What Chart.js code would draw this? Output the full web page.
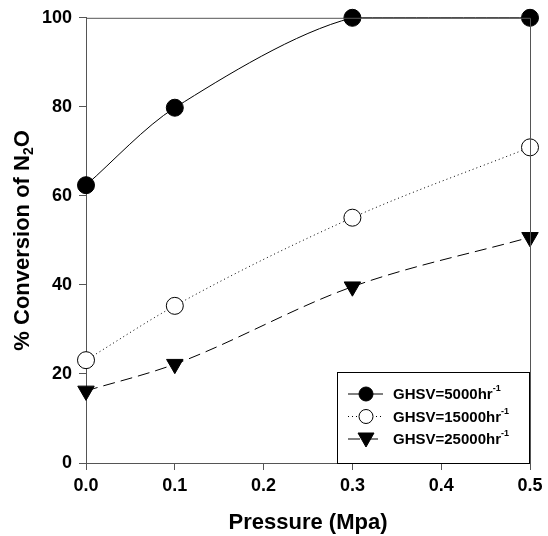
<!DOCTYPE html>
<html>
<head>
<meta charset="utf-8">
<script src="https://cdn.jsdelivr.net/npm/chart.js@4"></script>
<style>
  html, body { margin: 0; padding: 0; background: #fff; }
  #wrap { width: 548px; height: 536px; position: relative; }
</style>
</head>
<body>
<div id="wrap"><canvas id="chart"></canvas></div>
<script>
// data
const pressure = [0.0, 0.1, 0.3, 0.5];
const ghsv5000 = [62.4, 79.8, 100, 100];
const ghsv15000 = [23.1, 35.3, 55.1, 70.9];
const ghsv25000 = [16.2, 22.2, 39.6, 50.7];
const seriesNames = ["GHSV=5000hr", "GHSV=15000hr", "GHSV=25000hr"];
const xTicks = [0.0, 0.1, 0.2, 0.3, 0.4, 0.5];
const yTicks = [0, 20, 40, 60, 80, 100];

const FONT = "'Liberation Sans', Arial, sans-serif";
const AXIS = "#555";

function pts(vals) {
  return pressure.map((p, i) => ({ x: p, y: vals[i] }));
}

// frame (top/right), y title with subscript, legend with superscript
const extras = {
  id: "extras",
  afterDraw(chart) {
    const ctx = chart.ctx;
    const a = chart.chartArea;
    ctx.save();
    ctx.strokeStyle = AXIS;
    ctx.lineWidth = 1;
    ctx.beginPath();
    ctx.moveTo(a.left, a.top + 0.5);
    ctx.lineTo(a.right + 0.5, a.top + 0.5);
    ctx.lineTo(a.right + 0.5, a.bottom);
    ctx.stroke();

    // y title
    ctx.translate(23, (a.top + a.bottom) / 2);
    ctx.rotate(-Math.PI / 2);
    ctx.fillStyle = "#000";
    ctx.textBaseline = "middle";
    const big = "bold 22px " + FONT, small = "bold 14px " + FONT;
    const p1 = "% Conversion of N", p2 = "2", p3 = "O";
    ctx.font = big; const w1 = ctx.measureText(p1).width, w3 = ctx.measureText(p3).width;
    ctx.font = small; const w2 = ctx.measureText(p2).width;
    let x0 = -(w1 + w2 + w3) / 2;
    ctx.font = big; ctx.textAlign = "left";
    ctx.fillText(p1, x0, 0);
    ctx.font = small; ctx.fillText(p2, x0 + w1, 6);
    ctx.font = big; ctx.fillText(p3, x0 + w1 + w2, 0);
    ctx.restore();

    // legend
    ctx.save();
    const bx = a.right - 193, by = a.bottom - 91, bw = 192, bh = 91;
    ctx.fillStyle = "#fff";
    ctx.fillRect(bx, by, bw, bh);
    ctx.strokeStyle = "#000";
    ctx.lineWidth = 1;
    ctx.strokeRect(bx + 0.5, by + 0.5, bw, bh);
    chart.data.datasets.forEach((ds, i) => {
      const cy = by + 22 + i * 22.5;
      ctx.strokeStyle = "#000";
      ctx.lineWidth = 1;
      ctx.setLineDash(ds.borderDash || []);
      ctx.beginPath();
      ctx.moveTo(bx + 11, cy);
      ctx.lineTo(bx + 46, cy);
      ctx.stroke();
      ctx.setLineDash([]);
      const mx = bx + 29;
      ctx.fillStyle = ds.pointBackgroundColor;
      ctx.beginPath();
      if (ds.pointStyle === "triangle") {
        ctx.moveTo(mx - 8, cy - 6);
        ctx.lineTo(mx + 8, cy - 6);
        ctx.lineTo(mx, cy + 8);
        ctx.closePath();
      } else {
        ctx.arc(mx, cy, 7, 0, Math.PI * 2);
      }
      ctx.fill();
      ctx.stroke();
      ctx.fillStyle = "#000";
      ctx.font = "bold 15px " + FONT;
      ctx.textAlign = "left";
      ctx.textBaseline = "middle";
      ctx.fillText(seriesNames[i], bx + 56, cy + 1);
      const tw = ctx.measureText(seriesNames[i]).width;
      ctx.font = "bold 9px " + FONT;
      ctx.fillText("-1", bx + 56 + tw, cy - 5);
    });
    ctx.restore();
  }
};

new Chart(document.getElementById("chart"), {
  type: "line",
  data: {
    datasets: [
      {
        label: seriesNames[0], data: pts(ghsv5000),
        borderColor: "#000", borderWidth: 1,
        pointStyle: "circle", pointRadius: 8.5,
        pointBackgroundColor: "#000", pointBorderColor: "#000",
        tension: 0.3, clip: false
      },
      {
        label: seriesNames[1], data: pts(ghsv15000),
        borderColor: "#000", borderWidth: 1, borderDash: [1, 3],
        pointStyle: "circle", pointRadius: 8.5,
        pointBackgroundColor: "#fff", pointBorderColor: "#000",
        cubicInterpolationMode: "monotone", clip: false
      },
      {
        label: seriesNames[2], data: pts(ghsv25000),
        borderColor: "#000", borderWidth: 1, borderDash: [12, 6],
        pointStyle: "triangle", pointRotation: 180, pointRadius: 9.5,
        pointBackgroundColor: "#000", pointBorderColor: "#000",
        cubicInterpolationMode: "monotone", clip: false
      }
    ]
  },
  options: {
    responsive: true,
    maintainAspectRatio: false,
    animation: false,
    layout: { padding: { top: 14, right: 18, left: 0, bottom: 0 } },
    plugins: { legend: { display: false }, tooltip: { enabled: false } },
    scales: {
      x: {
        type: "linear", min: 0, max: 0.5,
        afterBuildTicks: s => { s.ticks = xTicks.map(v => ({ value: v })); },
        afterFit: s => { s.height = 73; },
        border: { color: AXIS, width: 1 },
        grid: { drawOnChartArea: false, tickLength: 7, color: AXIS },
        ticks: {
          color: "#000", padding: 5,
          font: { family: FONT, size: 18, weight: "bold" },
          callback: v => v.toFixed(1)
        },
        title: {
          display: true, text: "Pressure (Mpa)", color: "#000",
          font: { family: FONT, size: 22, weight: "bold" },
          padding: { top: 0, bottom: 0 }
        }
      },
      y: {
        min: 0, max: 100,
        afterBuildTicks: s => { s.ticks = yTicks.map(v => ({ value: v })); },
        afterFit: s => { s.width = 86; },
        border: { color: AXIS, width: 1 },
        grid: { drawOnChartArea: false, tickLength: 7, color: AXIS },
        ticks: {
          color: "#000", padding: 7,
          font: { family: FONT, size: 18, weight: "bold" }
        }
      }
    }
  },
  plugins: [extras]
});
</script>
</body>
</html>
